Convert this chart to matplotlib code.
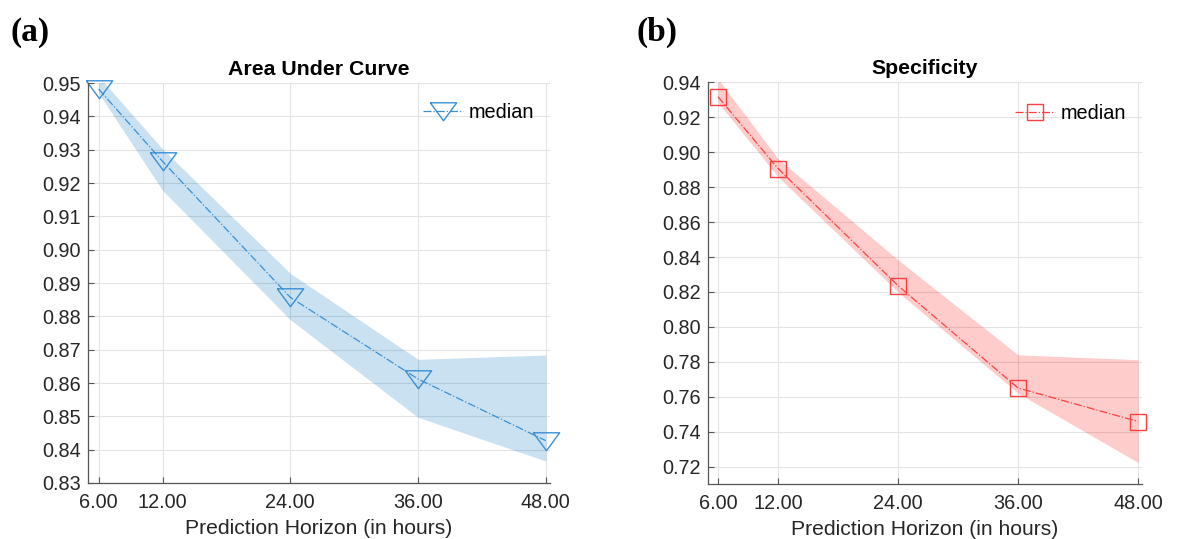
import numpy as np
import matplotlib
matplotlib.use('Agg')
import matplotlib.pyplot as plt

# prediction horizons (hours)
hours = [6, 12, 24, 36, 48]
xtick_labels = ['6.00', '12.00', '24.00', '36.00', '48.00']

# Area Under Curve: median and band
auc_median = [0.9482, 0.9265, 0.8857, 0.8612, 0.8427]
auc_lower = [0.9470, 0.9178, 0.8790, 0.8497, 0.8366]
auc_upper = [0.9520, 0.9302, 0.8929, 0.8671, 0.8684]

# Specificity: median and band
spec_median = [0.9318, 0.8907, 0.8236, 0.7650, 0.7458]
spec_lower = [0.9285, 0.8860, 0.8200, 0.7620, 0.7223]
spec_upper = [0.9420, 0.8964, 0.8384, 0.7840, 0.7812]

plt.rcParams['font.family'] = ['Liberation Sans', 'DejaVu Sans']

blue = '#3a90d4'
red = '#ff4040'
txt = '#262626'

# flattened down-triangle like matlab's 'v'
tri = [(-1, 0.66), (1, 0.66), (0, -0.70), (-1, 0.66)]

fig = plt.figure(figsize=(11.96, 5.39), dpi=100)
ax1 = fig.add_axes([0.0736, 0.1039, 0.3863, 0.742])
ax2 = fig.add_axes([0.592, 0.102, 0.3629, 0.745])


def style(ax, ylim, yticks, title):
    ax.set_xlim(5, 48.4)
    ax.set_ylim(*ylim)
    ax.set_xticks(hours)
    ax.set_xticklabels(xtick_labels)
    ax.set_yticks(yticks)
    ax.set_yticklabels([f'{v:.2f}' for v in yticks])
    ax.tick_params(direction='in', length=4, width=0.8, colors='#555555',
                   labelcolor=txt, labelsize=14.3)
    ax.tick_params(axis='x', pad=7)
    ax.tick_params(axis='y', pad=5)
    ax.grid(True, color='#e3e3e3', linewidth=0.8)
    ax.set_axisbelow(True)
    for s in ['top', 'right']:
        ax.spines[s].set_visible(False)
    for s in ['left', 'bottom']:
        ax.spines[s].set_color('#555555')
        ax.spines[s].set_linewidth(0.9)
    ax.set_title(title, fontsize=15.3, fontweight='bold', color='black', pad=6)
    ax.set_xlabel('Prediction Horizon (in hours)', fontsize=15.2, color=txt, labelpad=5)


# (a) AUC
ax1.fill_between(hours, auc_lower, auc_upper, color='#0072bd', alpha=0.21,
                 linewidth=0)
ax1.plot(hours, auc_median, linestyle='-.', color=blue, linewidth=0.9,
         marker=tri, markersize=19, markerfacecolor='none',
         markeredgecolor=blue, markeredgewidth=1.0, label='median', clip_on=False)
style(ax1, (0.83, 0.95), np.round(np.arange(0.83, 0.951, 0.01), 2), 'Area Under Curve')
ax1.legend(loc='upper right', frameon=False, fontsize=14.3, handlelength=2.0,
           handletextpad=0.3, bbox_to_anchor=(1.005, 0.995))

# (b) Specificity
ax2.fill_between(hours, spec_lower, spec_upper, color='#ff0000', alpha=0.2,
                 linewidth=0)
ax2.plot(hours, spec_median, linestyle='-.', color=red, linewidth=0.9,
         marker='s', markersize=12, markerfacecolor='none',
         markeredgecolor=red, markeredgewidth=1.0, label='median', clip_on=False)
style(ax2, (0.71, 0.94), np.round(np.arange(0.72, 0.941, 0.02), 2), 'Specificity')
ax2.legend(loc='upper right', frameon=False, fontsize=14.3, handlelength=2.0,
           handletextpad=0.3, bbox_to_anchor=(1.005, 0.99))

# panel labels
fig.text(0.0085, 0.94, '(a)', fontsize=24, fontweight='bold',
         family=['Liberation Serif', 'DejaVu Serif'], va='center')
fig.text(0.532, 0.94, '(b)', fontsize=24, fontweight='bold',
         family=['Liberation Serif', 'DejaVu Serif'], va='center')

fig.savefig('out.png', dpi=100)
